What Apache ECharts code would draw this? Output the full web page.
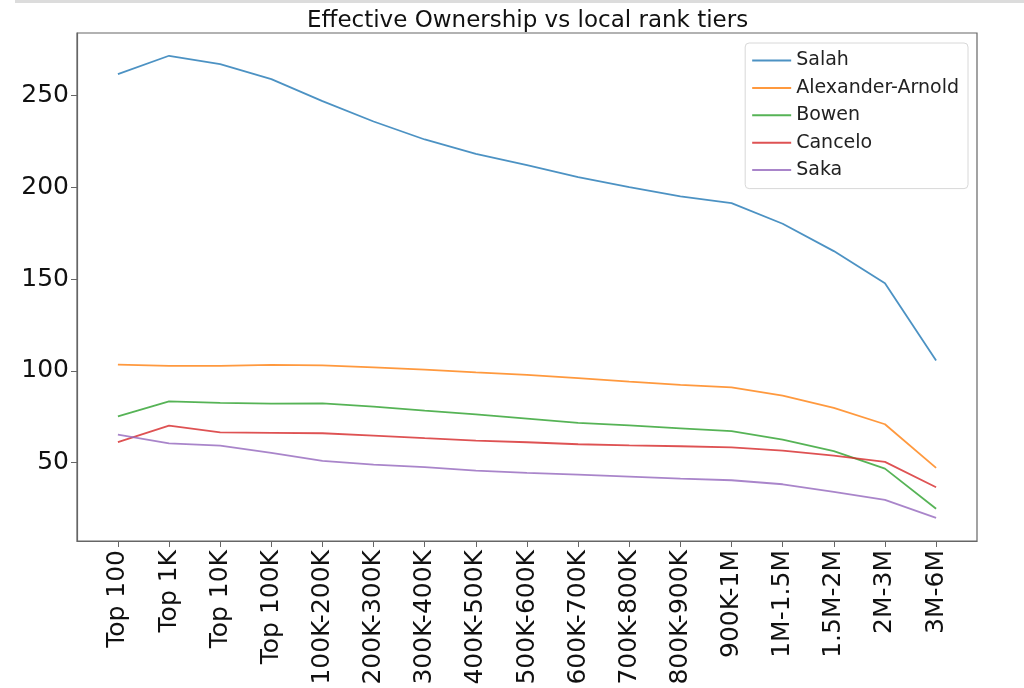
<!DOCTYPE html>
<html>
<head>
<meta charset="utf-8">
<script src="https://cdn.jsdelivr.net/npm/echarts@6/dist/echarts.min.js"></script>
<style>html,body{margin:0;padding:0;background:#fff}#c{width:1024px;height:688px}</style>
</head>
<body>
<div id="c"></div>
<script>
var categories = ['Top 100','Top 1K','Top 10K','Top 100K','100K-200K','200K-300K','300K-400K','400K-500K','500K-600K','600K-700K','700K-800K','800K-900K','900K-1M','1M-1.5M','1.5M-2M','2M-3M','3M-6M'];
var salah   = [261.6,271.6,267.0,258.9,246.9,235.8,226.0,218.2,212.0,205.5,200.0,195.0,191.3,180.1,165.2,147.7,105.6];
var taa     = [103.4,102.7,102.7,103.2,103.0,101.9,100.7,99.2,97.8,96.0,94.1,92.3,91.0,86.5,79.8,70.9,47.1];
var bowen   = [75.2,83.4,82.5,82.1,82.3,80.5,78.3,76.3,74.0,71.6,70.3,68.7,67.2,62.5,56.2,46.7,24.9];
var cancelo = [61.1,70.2,66.5,66.2,66.0,64.7,63.3,62.0,61.1,60.0,59.4,58.9,58.3,56.5,53.8,50.4,36.6];
var saka    = [65.3,60.5,59.3,55.3,50.9,48.9,47.5,45.6,44.4,43.5,42.4,41.3,40.4,38.2,34.0,29.7,19.9];
var yTicks = [50,100,150,200,250];
var names = ['Salah','Alexander-Arnold','Bowen','Cancelo','Saka'];
var colors = ['rgba(31,119,180,0.8)','rgba(255,127,14,0.8)','rgba(44,160,44,0.8)','rgba(214,39,40,0.8)','rgba(148,103,189,0.8)'];
var seriesValues = [salah, taa, bowen, cancelo, saka];
var xIdx = categories.map(function(_, i){ return i; });

var chart = echarts.init(document.getElementById('c'));
var font = 'DejaVu Sans';
chart.setOption({
  animation: false,
  backgroundColor: '#fff',
  color: colors,
  title: {
    text: 'Effective Ownership vs local rank tiers',
    left: 302, top: 5,
    textStyle: { fontFamily: font, fontSize: 23, fontWeight: 'normal', color: '#111' }
  },
  graphic: [{ type: 'rect', shape: { x: 15, y: 0, width: 1009, height: 3 }, style: { fill: '#dcdcdc' } }],
  grid: { left: 77, right: 47, top: 33, bottom: 147, show: true, borderColor: '#666', borderWidth: 1.2, containLabel: false },
  legend: {
    orient: 'vertical', right: 56, top: 43,
    data: names,
    icon: 'rect',
    itemWidth: 39, itemHeight: 2, itemGap: 8.4,
    padding: [8, 9, 9, 7],
    backgroundColor: '#fff', borderColor: '#d8d8d8', borderWidth: 1, borderRadius: 4,
    textStyle: { fontFamily: font, fontSize: 19, color: '#222', lineHeight: 19 }
  },
  xAxis: {
    type: 'value', min: -0.8, max: 16.8,
    splitLine: { show: false },
    axisLine: { show: true, onZero: false, lineStyle: { color: '#666', width: 1.2 } },
    axisTick: { show: true, length: 6, lineStyle: { color: '#666' }, customValues: xIdx },
    axisLabel: {
      customValues: xIdx, rotate: 90, margin: 9,
      fontFamily: font, fontSize: 25, color: '#111',
      formatter: function(v){ return categories[Math.round(v)]; }
    }
  },
  yAxis: {
    type: 'value', min: 7.3, max: 284,
    splitLine: { show: false },
    axisLine: { show: true, onZero: false, lineStyle: { color: '#666', width: 1.2 } },
    axisTick: { show: true, length: 6, lineStyle: { color: '#666' }, customValues: yTicks },
    axisLabel: { customValues: yTicks, margin: 8, fontFamily: font, fontSize: 25, color: '#111' }
  },
  series: seriesValues.map(function(vals, k){
    return {
      name: names[k], type: 'line', symbol: 'none',
      lineStyle: { width: 1.8, color: colors[k] },
      itemStyle: { color: colors[k] },
      data: vals.map(function(v, i){ return [i, v]; })
    };
  })
});
</script>
</body>
</html>
